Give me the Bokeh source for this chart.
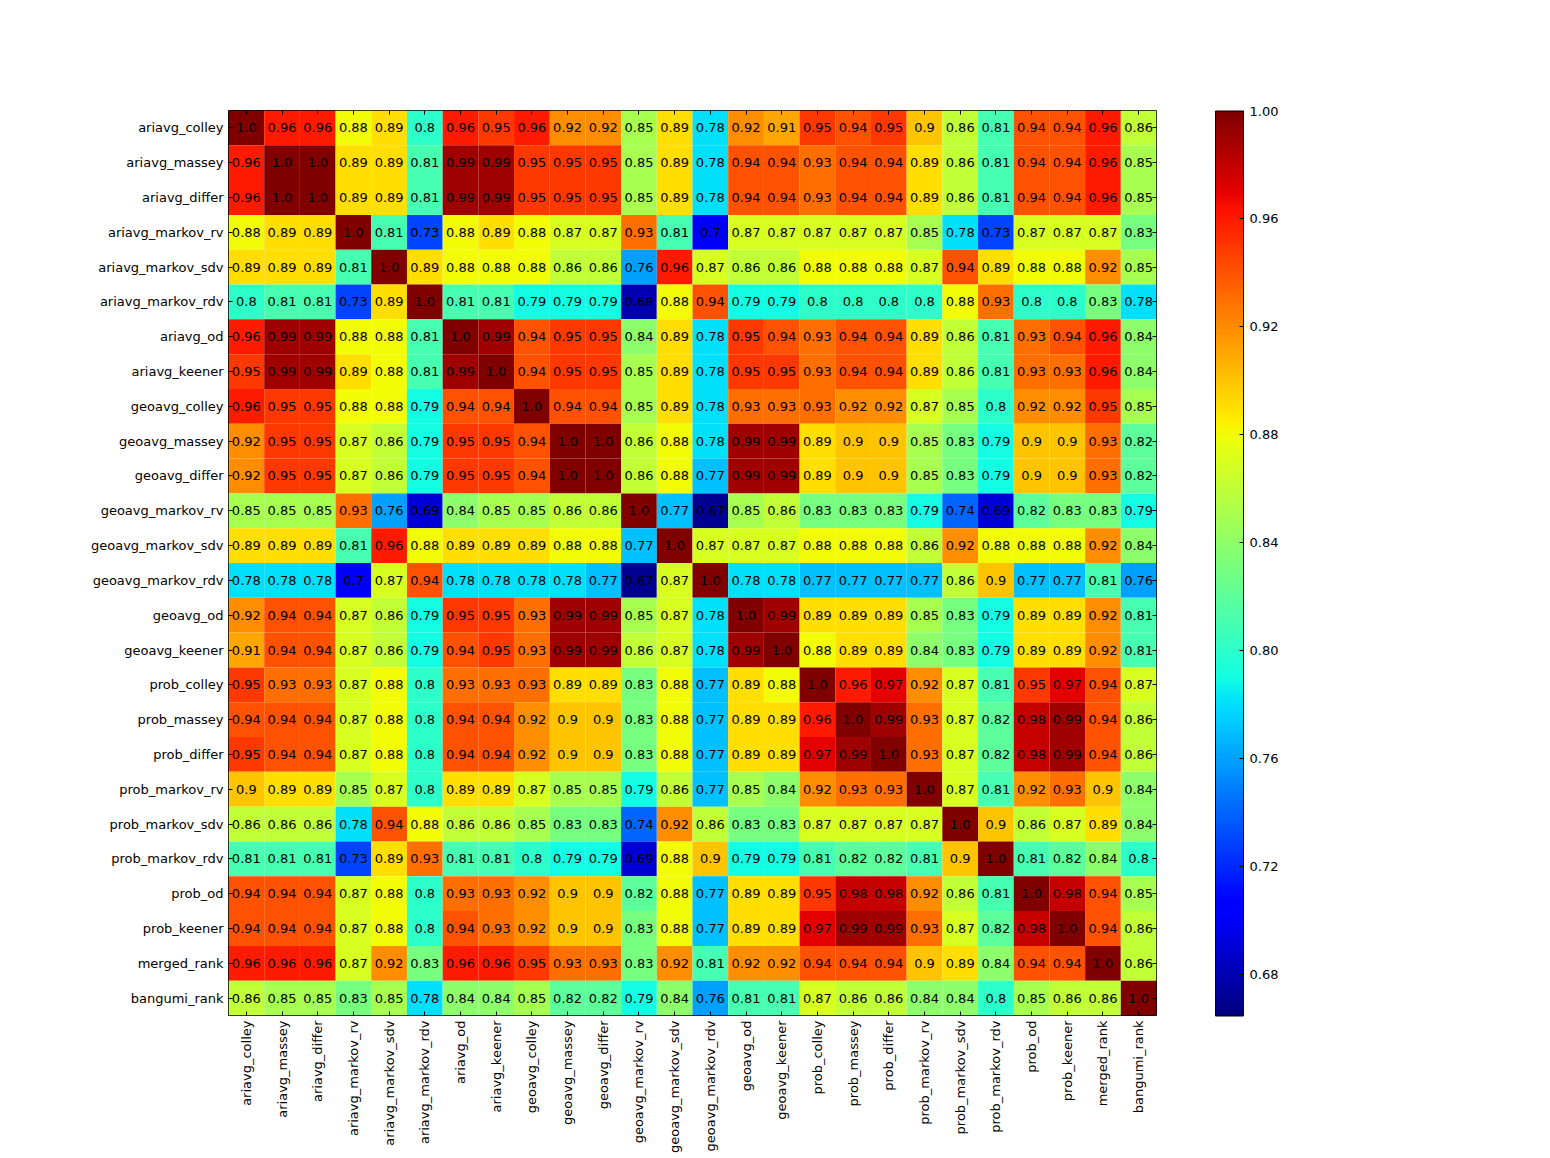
import numpy as np
from bokeh.plotting import figure
from bokeh.models import (ColumnDataSource, LinearColorMapper, ColorBar, FixedTicker,
                          PrintfTickFormatter, CategoricalAxis)
from bokeh.core.properties import value
from bokeh.embed import file_html
from bokeh.resources import INLINE

labels = ["ariavg_colley", "ariavg_massey", "ariavg_differ", "ariavg_markov_rv",
          "ariavg_markov_sdv", "ariavg_markov_rdv", "ariavg_od", "ariavg_keener",
          "geoavg_colley", "geoavg_massey", "geoavg_differ", "geoavg_markov_rv",
          "geoavg_markov_sdv", "geoavg_markov_rdv", "geoavg_od", "geoavg_keener",
          "prob_colley", "prob_massey", "prob_differ", "prob_markov_rv",
          "prob_markov_sdv", "prob_markov_rdv", "prob_od", "prob_keener",
          "merged_rank", "bangumi_rank"]

corr = [
    [1.0, 0.96, 0.96, 0.88, 0.89, 0.8, 0.96, 0.95, 0.96, 0.92, 0.92, 0.85, 0.89, 0.78, 0.92, 0.91, 0.95, 0.94, 0.95, 0.9, 0.86, 0.81, 0.94, 0.94, 0.96, 0.86],
    [0.96, 1.0, 1.0, 0.89, 0.89, 0.81, 0.99, 0.99, 0.95, 0.95, 0.95, 0.85, 0.89, 0.78, 0.94, 0.94, 0.93, 0.94, 0.94, 0.89, 0.86, 0.81, 0.94, 0.94, 0.96, 0.85],
    [0.96, 1.0, 1.0, 0.89, 0.89, 0.81, 0.99, 0.99, 0.95, 0.95, 0.95, 0.85, 0.89, 0.78, 0.94, 0.94, 0.93, 0.94, 0.94, 0.89, 0.86, 0.81, 0.94, 0.94, 0.96, 0.85],
    [0.88, 0.89, 0.89, 1.0, 0.81, 0.73, 0.88, 0.89, 0.88, 0.87, 0.87, 0.93, 0.81, 0.7, 0.87, 0.87, 0.87, 0.87, 0.87, 0.85, 0.78, 0.73, 0.87, 0.87, 0.87, 0.83],
    [0.89, 0.89, 0.89, 0.81, 1.0, 0.89, 0.88, 0.88, 0.88, 0.86, 0.86, 0.76, 0.96, 0.87, 0.86, 0.86, 0.88, 0.88, 0.88, 0.87, 0.94, 0.89, 0.88, 0.88, 0.92, 0.85],
    [0.8, 0.81, 0.81, 0.73, 0.89, 1.0, 0.81, 0.81, 0.79, 0.79, 0.79, 0.68, 0.88, 0.94, 0.79, 0.79, 0.8, 0.8, 0.8, 0.8, 0.88, 0.93, 0.8, 0.8, 0.83, 0.78],
    [0.96, 0.99, 0.99, 0.88, 0.88, 0.81, 1.0, 0.99, 0.94, 0.95, 0.95, 0.84, 0.89, 0.78, 0.95, 0.94, 0.93, 0.94, 0.94, 0.89, 0.86, 0.81, 0.93, 0.94, 0.96, 0.84],
    [0.95, 0.99, 0.99, 0.89, 0.88, 0.81, 0.99, 1.0, 0.94, 0.95, 0.95, 0.85, 0.89, 0.78, 0.95, 0.95, 0.93, 0.94, 0.94, 0.89, 0.86, 0.81, 0.93, 0.93, 0.96, 0.84],
    [0.96, 0.95, 0.95, 0.88, 0.88, 0.79, 0.94, 0.94, 1.0, 0.94, 0.94, 0.85, 0.89, 0.78, 0.93, 0.93, 0.93, 0.92, 0.92, 0.87, 0.85, 0.8, 0.92, 0.92, 0.95, 0.85],
    [0.92, 0.95, 0.95, 0.87, 0.86, 0.79, 0.95, 0.95, 0.94, 1.0, 1.0, 0.86, 0.88, 0.78, 0.99, 0.99, 0.89, 0.9, 0.9, 0.85, 0.83, 0.79, 0.9, 0.9, 0.93, 0.82],
    [0.92, 0.95, 0.95, 0.87, 0.86, 0.79, 0.95, 0.95, 0.94, 1.0, 1.0, 0.86, 0.88, 0.77, 0.99, 0.99, 0.89, 0.9, 0.9, 0.85, 0.83, 0.79, 0.9, 0.9, 0.93, 0.82],
    [0.85, 0.85, 0.85, 0.93, 0.76, 0.69, 0.84, 0.85, 0.85, 0.86, 0.86, 1.0, 0.77, 0.67, 0.85, 0.86, 0.83, 0.83, 0.83, 0.79, 0.74, 0.69, 0.82, 0.83, 0.83, 0.79],
    [0.89, 0.89, 0.89, 0.81, 0.96, 0.88, 0.89, 0.89, 0.89, 0.88, 0.88, 0.77, 1.0, 0.87, 0.87, 0.87, 0.88, 0.88, 0.88, 0.86, 0.92, 0.88, 0.88, 0.88, 0.92, 0.84],
    [0.78, 0.78, 0.78, 0.7, 0.87, 0.94, 0.78, 0.78, 0.78, 0.78, 0.77, 0.67, 0.87, 1.0, 0.78, 0.78, 0.77, 0.77, 0.77, 0.77, 0.86, 0.9, 0.77, 0.77, 0.81, 0.76],
    [0.92, 0.94, 0.94, 0.87, 0.86, 0.79, 0.95, 0.95, 0.93, 0.99, 0.99, 0.85, 0.87, 0.78, 1.0, 0.99, 0.89, 0.89, 0.89, 0.85, 0.83, 0.79, 0.89, 0.89, 0.92, 0.81],
    [0.91, 0.94, 0.94, 0.87, 0.86, 0.79, 0.94, 0.95, 0.93, 0.99, 0.99, 0.86, 0.87, 0.78, 0.99, 1.0, 0.88, 0.89, 0.89, 0.84, 0.83, 0.79, 0.89, 0.89, 0.92, 0.81],
    [0.95, 0.93, 0.93, 0.87, 0.88, 0.8, 0.93, 0.93, 0.93, 0.89, 0.89, 0.83, 0.88, 0.77, 0.89, 0.88, 1.0, 0.96, 0.97, 0.92, 0.87, 0.81, 0.95, 0.97, 0.94, 0.87],
    [0.94, 0.94, 0.94, 0.87, 0.88, 0.8, 0.94, 0.94, 0.92, 0.9, 0.9, 0.83, 0.88, 0.77, 0.89, 0.89, 0.96, 1.0, 0.99, 0.93, 0.87, 0.82, 0.98, 0.99, 0.94, 0.86],
    [0.95, 0.94, 0.94, 0.87, 0.88, 0.8, 0.94, 0.94, 0.92, 0.9, 0.9, 0.83, 0.88, 0.77, 0.89, 0.89, 0.97, 0.99, 1.0, 0.93, 0.87, 0.82, 0.98, 0.99, 0.94, 0.86],
    [0.9, 0.89, 0.89, 0.85, 0.87, 0.8, 0.89, 0.89, 0.87, 0.85, 0.85, 0.79, 0.86, 0.77, 0.85, 0.84, 0.92, 0.93, 0.93, 1.0, 0.87, 0.81, 0.92, 0.93, 0.9, 0.84],
    [0.86, 0.86, 0.86, 0.78, 0.94, 0.88, 0.86, 0.86, 0.85, 0.83, 0.83, 0.74, 0.92, 0.86, 0.83, 0.83, 0.87, 0.87, 0.87, 0.87, 1.0, 0.9, 0.86, 0.87, 0.89, 0.84],
    [0.81, 0.81, 0.81, 0.73, 0.89, 0.93, 0.81, 0.81, 0.8, 0.79, 0.79, 0.69, 0.88, 0.9, 0.79, 0.79, 0.81, 0.82, 0.82, 0.81, 0.9, 1.0, 0.81, 0.82, 0.84, 0.8],
    [0.94, 0.94, 0.94, 0.87, 0.88, 0.8, 0.93, 0.93, 0.92, 0.9, 0.9, 0.82, 0.88, 0.77, 0.89, 0.89, 0.95, 0.98, 0.98, 0.92, 0.86, 0.81, 1.0, 0.98, 0.94, 0.85],
    [0.94, 0.94, 0.94, 0.87, 0.88, 0.8, 0.94, 0.93, 0.92, 0.9, 0.9, 0.83, 0.88, 0.77, 0.89, 0.89, 0.97, 0.99, 0.99, 0.93, 0.87, 0.82, 0.98, 1.0, 0.94, 0.86],
    [0.96, 0.96, 0.96, 0.87, 0.92, 0.83, 0.96, 0.96, 0.95, 0.93, 0.93, 0.83, 0.92, 0.81, 0.92, 0.92, 0.94, 0.94, 0.94, 0.9, 0.89, 0.84, 0.94, 0.94, 1.0, 0.86],
    [0.86, 0.85, 0.85, 0.83, 0.85, 0.78, 0.84, 0.84, 0.85, 0.82, 0.82, 0.79, 0.84, 0.76, 0.81, 0.81, 0.87, 0.86, 0.86, 0.84, 0.84, 0.8, 0.85, 0.86, 0.86, 1.0],
]

cbar_ticks = [0.68, 0.72, 0.76, 0.80, 0.84, 0.88, 0.92, 0.96, 1.00]
vmin, vmax = 0.6645, 1.0

# matplotlib "jet" colormap
def jet_palette(n=256):
    x = np.linspace(0, 1, n)
    r = np.interp(x, [0, 0.35, 0.66, 0.89, 1], [0, 0, 1, 1, 0.5])
    g = np.interp(x, [0, 0.125, 0.375, 0.64, 0.91, 1], [0, 0, 1, 1, 0, 0])
    b = np.interp(x, [0, 0.11, 0.34, 0.65, 1], [0.5, 1, 1, 0, 0])
    return ["#%02x%02x%02x" % (int(round(rr * 255)), int(round(gg * 255)), int(round(bb * 255)))
            for rr, gg, bb in zip(r, g, b)]

palette = jet_palette()
mapper = LinearColorMapper(palette=palette, low=vmin, high=vmax)

xs, ys, vals, txt = [], [], [], []
for i, rl in enumerate(labels):
    for j, cl in enumerate(labels):
        xs.append(cl)
        ys.append(rl)
        vals.append(corr[i][j])
        txt.append(str(corr[i][j]))
src = ColumnDataSource(dict(x=xs, y=ys, v=vals, t=txt))

FONT = "DejaVu Sans"
W, H = 1545, 1156
LEFT, TOP, FRAME_W = 228, 110, 928
FRAME_H = 905

p = figure(width=W, height=H, x_range=labels, y_range=list(reversed(labels)),
           output_backend="svg", toolbar_location=None,
           min_border_left=LEFT, min_border_top=TOP,
           min_border_right=W - LEFT - FRAME_W, min_border_bottom=0)
p.rect(x="x", y="y", width=1, height=1, source=src,
       fill_color={"field": "v", "transform": mapper}, line_color=None)
p.text(x="x", y="y", text="t", source=src, text_align="center", text_baseline="middle",
       text_font=value(FONT), text_font_size="13px", text_color="black")

p.grid.visible = False
p.outline_line_color = "black"
p.outline_line_width = 1
p.background_fill_color = "white"

bottom_ax = p.below[0]
left_ax = p.left[0]

# mirrored tick-only axes on top and right (inward ticks, no labels)
top_ax = CategoricalAxis(major_label_text_font_size="0px", major_label_standoff=0)
right_ax = CategoricalAxis(major_label_text_font_size="0px", major_label_standoff=0)
p.add_layout(top_ax, "above")
p.add_layout(right_ax, "right")

for ax in (bottom_ax, left_ax, top_ax, right_ax):
    ax.major_label_text_font = FONT
    ax.major_label_text_color = "black"
    ax.major_tick_in = 4
    ax.major_tick_out = 0
    ax.major_tick_line_color = "black"
    ax.axis_line_color = None
for ax in (bottom_ax, left_ax):
    ax.major_label_text_font_size = "13px"
    ax.major_label_standoff = 5
bottom_ax.major_label_orientation = np.pi / 2

cbar = ColorBar(color_mapper=mapper, ticker=FixedTicker(ticks=cbar_ticks),
                formatter=PrintfTickFormatter(format="%.2f"),
                location="center_left",
                width=28, height=FRAME_H, padding=59, margin=0,
                major_label_text_font=FONT, major_label_text_font_size="13px",
                major_label_text_color="black",
                major_tick_line_color="black", major_tick_in=4, major_tick_out=0,
                bar_line_color="black", border_line_color=None,
                background_fill_color=None, label_standoff=6)
p.add_layout(cbar, "right")

open("out.html", "w").write(file_html(p, INLINE))
